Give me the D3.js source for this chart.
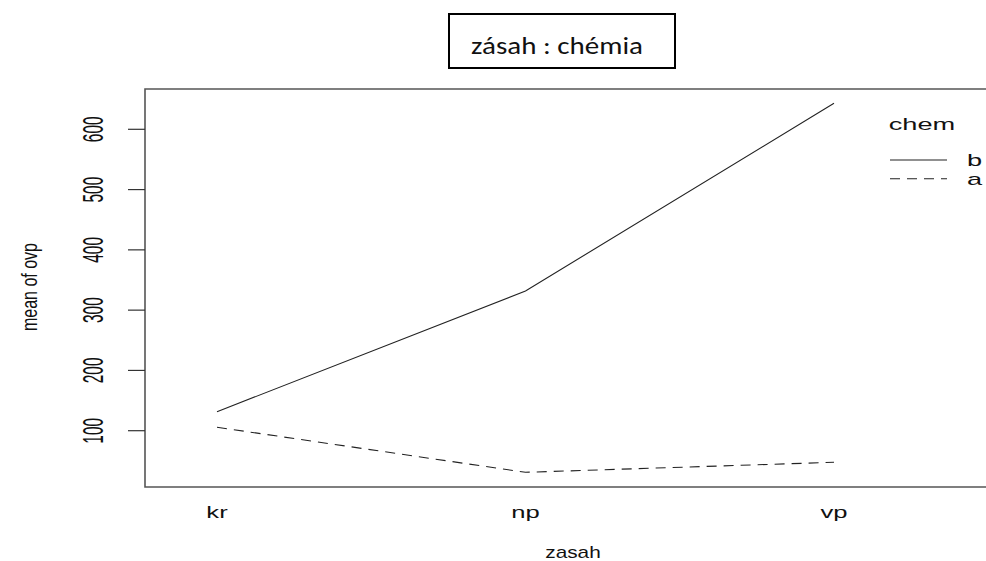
<!DOCTYPE html>
<html>
<head>
<meta charset="utf-8">
<script src="https://cdn.jsdelivr.net/npm/d3@7"></script>
<style>
  body { margin: 0; background: #fff; }
  svg { display: block; }
  text { font-family: "Liberation Sans", Arial, sans-serif; fill: #111; }
</style>
</head>
<body>
<svg width="986" height="561"></svg>
<script>
const zasah = ["kr", "np", "vp"]
const chemB = [131.5, 331.8, 643.2]
const chemA = [105.7, 31, 47.6]
const yTicks = [100, 200, 300, 400, 500, 600]
const legendKeys = ["b", "a"]

// the original R plot was stretched sideways, so text is widened too
const sx = 1.9

const svg = d3.select("svg")

const x = d3.scalePoint().domain(zasah).range([217, 834])
const y = d3.scaleLinear().domain([100, 600]).range([430.7, 129.3])

// plot frame (right side runs off the picture)
svg.append("path")
    .attr("d", "M986,89H145V487H986")
    .attr("fill", "none")
    .attr("stroke", "#555")
    .attr("stroke-width", 1.6)

// y axis
const yAxis = svg.append("g")
yAxis.selectAll("line")
    .data(yTicks)
    .enter()
    .append("line")
    .attr("x1", 128).attr("x2", 145)
    .attr("y1", d => y(d)).attr("y2", d => y(d))
    .attr("stroke", "#333")
    .attr("stroke-width", 1.2)

yAxis.selectAll("text")
    .data(yTicks)
    .enter()
    .append("text")
    .attr("transform", d => "translate(103," + y(d) + ") scale(" + sx + ",1) rotate(-90)")
    .attr("text-anchor", "middle")
    .attr("font-size", 15.5)
    .text(d => d)

svg.append("text")
    .attr("transform", "translate(37,287) scale(1.35,1) rotate(-90)")
    .attr("text-anchor", "middle")
    .attr("font-size", 16)
    .text("mean of ovp")

// x labels
svg.selectAll("text.xlab")
    .data(zasah)
    .enter()
    .append("text")
    .attr("class", "xlab")
    .attr("transform", d => "translate(" + x(d) + ",518) scale(1.6,1)")
    .attr("text-anchor", "middle")
    .attr("font-size", 16)
    .text(d => d)

svg.append("text")
    .attr("transform", "translate(573,558) scale(1.3,1)")
    .attr("text-anchor", "middle")
    .attr("font-size", 16)
    .text("zasah")

// lines
const line = d3.line()
    .x((d, i) => x(zasah[i]))
    .y(d => y(d))

const series = [
    { key: "b", values: chemB, dash: null },
    { key: "a", values: chemA, dash: "10,7" }
]

svg.selectAll("path.series")
    .data(series)
    .enter()
    .append("path")
    .attr("class", "series")
    .attr("d", d => line(d.values))
    .attr("fill", "none")
    .attr("stroke", "#222")
    .attr("stroke-width", 1.1)
    .attr("stroke-dasharray", d => d.dash)

// legend
svg.append("text")
    .attr("transform", "translate(922,130) scale(1.7,1)")
    .attr("text-anchor", "middle")
    .attr("font-size", 16)
    .text("chem")

const leg = svg.selectAll("g.leg")
    .data(series)
    .enter()
    .append("g")
    .attr("class", "leg")
    .attr("transform", (d, i) => "translate(0," + (160 + i * 18.7) + ")")

leg.append("line")
    .attr("x1", 890).attr("x2", 947)
    .attr("stroke", "#222")
    .attr("stroke-width", 1.1)
    .attr("stroke-dasharray", d => d.dash)

leg.append("text")
    .attr("transform", "translate(967,6) scale(1.7,1)")
    .attr("font-size", 16)
    .text((d, i) => legendKeys[i])

// title box
svg.append("rect")
    .attr("x", 449).attr("y", 14)
    .attr("width", 226).attr("height", 54)
    .attr("fill", "#fff")
    .attr("stroke", "#000")
    .attr("stroke-width", 2)

svg.append("text")
    .attr("x", 557).attr("y", 54)
    .attr("text-anchor", "middle")
    .attr("font-size", 24)
    .attr("textLength", 172)
    .attr("lengthAdjust", "spacingAndGlyphs")
    .style("font-family", "Carlito, Calibri, 'Noto Sans', sans-serif")
    .text("zásah : chémia")
</script>
</body>
</html>
